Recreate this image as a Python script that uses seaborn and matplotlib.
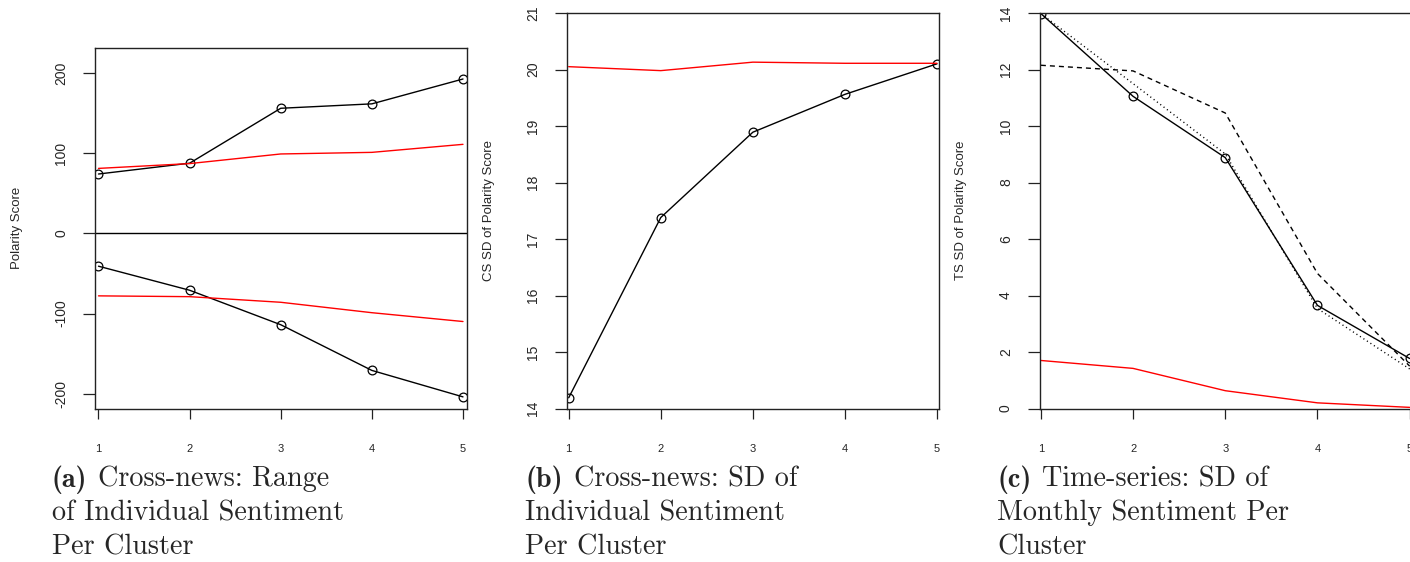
import matplotlib
matplotlib.use("Agg")
import matplotlib.pyplot as plt
import seaborn as sns

# ---- data ----
clusters = [1, 2, 3, 4, 5]
a_upper_black = [74, 87.5, 156, 161.5, 192.5]
a_upper_red = [81, 87, 99, 101, 111]
a_lower_black = [-41, -71, -114, -171, -204]
a_lower_red = [-78, -79, -86, -99, -110]
b_black = [14.19, 17.38, 18.89, 19.56, 20.10]
b_red = [20.05, 19.98, 20.13, 20.11, 20.11]
c_solid = [13.98, 11.05, 8.88, 3.65, 1.77]
c_dashed = [12.15, 11.95, 10.46, 4.78, 1.50]
c_dotted = [13.98, 11.50, 9.01, 3.54, 1.40]
c_red = [1.70, 1.42, 0.63, 0.20, 0.04]

a_yticks = [-200, -100, 0, 100, 200]
b_yticks = [14, 15, 16, 17, 18, 19, 20, 21]
c_yticks = [0, 2, 4, 6, 8, 10, 12, 14]

ylabels = ["Polarity Score", "CS SD of Polarity Score", "TS SD of Polarity Score"]
cap_tags = ["(a)", "(b)", "(c)"]
captions = [
    ["Cross-news: Range", "of Individual Sentiment", "Per Cluster"],
    ["Cross-news: SD of", "Individual Sentiment", "Per Cluster"],
    ["Time-series: SD of", "Monthly Sentiment Per", "Cluster"],
]

sns.set_style("white")
plt.rcParams["font.family"] = ["Liberation Sans", "DejaVu Sans"]
plt.rcParams["axes.unicode_minus"] = False

W, H = 1410, 562
fig = plt.figure(figsize=(W / 100, H / 100), dpi=100)


def px_axes(left, top, right, bottom):
    return fig.add_axes([left / W, 1 - bottom / H, (right - left) / W, (bottom - top) / H])


ax_a = px_axes(95, 47.5, 467, 408.5)
ax_b = px_axes(567, 13, 939, 408.5)
ax_c = px_axes(1039.5, 13, 1411.5, 408.5)

lw = 1.0
msz = 6.3
circ = dict(marker="o", markersize=msz, markerfacecolor="none",
            markeredgecolor="black", markeredgewidth=0.9)

# Panel a
sns.lineplot(x=clusters, y=a_upper_black, ax=ax_a, color="black", lw=lw, **circ)
sns.lineplot(x=clusters, y=a_lower_black, ax=ax_a, color="black", lw=lw, **circ)
sns.lineplot(x=clusters, y=a_upper_red, ax=ax_a, color="red", lw=lw)
sns.lineplot(x=clusters, y=a_lower_red, ax=ax_a, color="red", lw=lw)
ax_a.axhline(0, color="black", lw=lw)
ax_a.set_xlim(0.9616, 5.044)
ax_a.set_ylim(-218.5, 231.8)
ax_a.set_yticks(a_yticks)

# Panel b
sns.lineplot(x=clusters, y=b_black, ax=ax_b, color="black", lw=lw, **circ)
sns.lineplot(x=clusters, y=b_red, ax=ax_b, color="red", lw=lw)
ax_b.set_xlim(0.9815, 5.022)
ax_b.set_ylim(14, 21)
ax_b.set_yticks(b_yticks)

# Panel c
sns.lineplot(x=clusters, y=c_solid, ax=ax_c, color="black", lw=lw, **circ)
sns.lineplot(x=clusters, y=c_dashed, ax=ax_c, color="black", lw=lw,
             linestyle=(0, (3.6, 2.9)))
sns.lineplot(x=clusters, y=c_dotted, ax=ax_c, color="black", lw=lw,
             linestyle=(0, (0.8, 2.2)))
sns.lineplot(x=clusters, y=c_red, ax=ax_c, color="red", lw=lw)
ax_c.set_xlim(0.985, 5.02)
ax_c.set_ylim(0, 14)
ax_c.set_yticks(c_yticks)

label_x = [17, 489, 961]
for ax, lab, lx in zip([ax_a, ax_b, ax_c], ylabels, label_x):
    ax.set_xticks(clusters)
    ax.set_xticklabels([str(c) for c in clusters])
    for s in ax.spines.values():
        s.set_visible(True)
        s.set_color("#222222")
        s.set_linewidth(1.0)
    ax.tick_params(axis="y", direction="out", length=8.6, width=0.9, color="#222222",
                   labelsize=10, pad=10.5, labelrotation=90, left=True)
    ax.tick_params(axis="x", direction="out", length=7.5, width=0.9, color="#222222",
                   labelsize=8, pad=18, bottom=True)
    for t in ax.get_yticklabels():
        t.set_va("center")
    ax.set_xlabel("")
    ax.set_ylabel(lab, fontsize=9.5, va="center")
    bb = ax.get_position()
    ax.yaxis.set_label_coords((lx / W - bb.x0) / bb.width, 0.5)
    ax.grid(False)

cap_x = [52, 525, 997]
baselines = [486.5, 520.5, 554.5]
cap_size = 20.3
fig.canvas.draw()
renderer = fig.canvas.get_renderer()
for cx, tag, lines in zip(cap_x, cap_tags, captions):
    t = fig.text(cx / W, 1 - baselines[0] / H, tag, fontfamily="cmb10",
                 fontsize=cap_size, ha="left", va="baseline")
    ext = t.get_window_extent(renderer=renderer)
    fig.text((ext.x1 + 11) / W, 1 - baselines[0] / H, lines[0], fontfamily="cmr10",
             fontsize=cap_size, ha="left", va="baseline")
    for by, line in zip(baselines[1:], lines[1:]):
        fig.text(cx / W, 1 - by / H, line, fontfamily="cmr10", fontsize=cap_size,
                 ha="left", va="baseline")

fig.savefig("out.png", dpi=100)
